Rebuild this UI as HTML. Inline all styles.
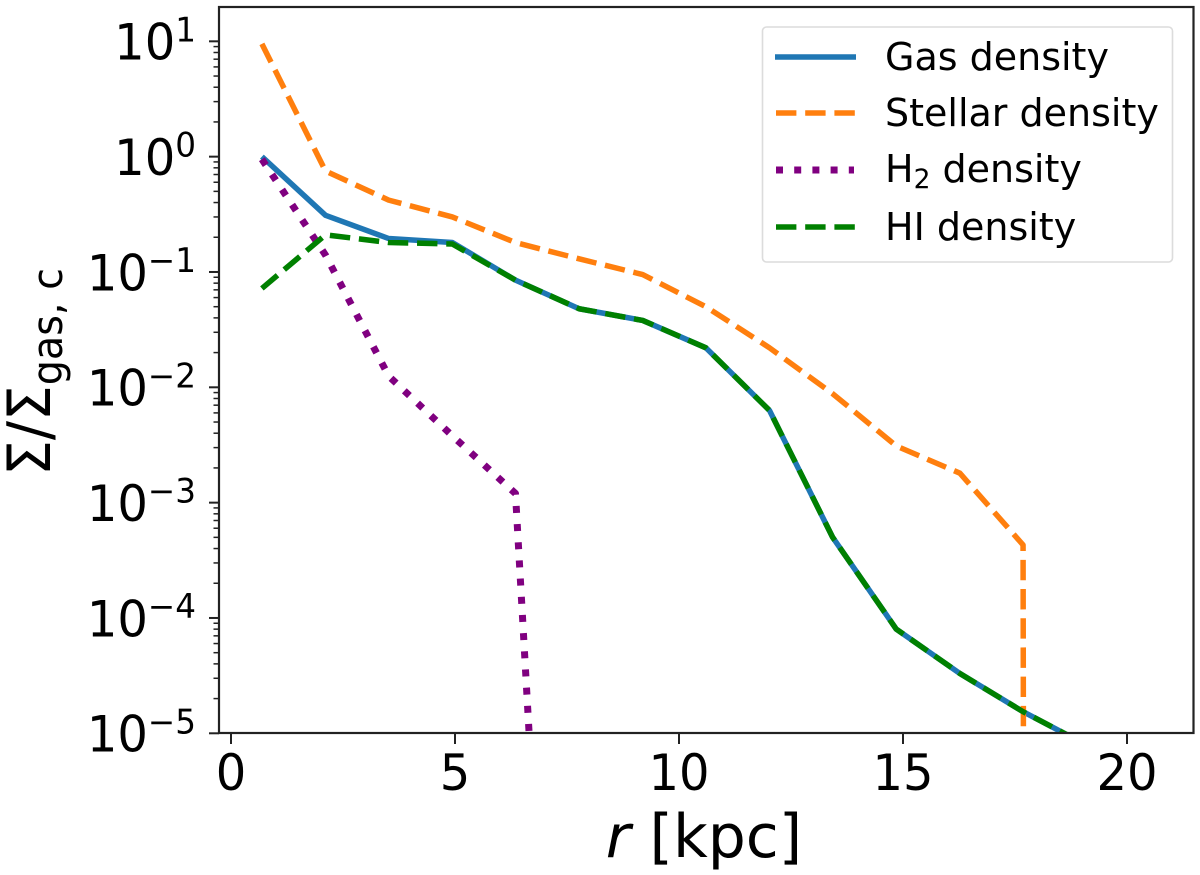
<!DOCTYPE html>
<html lang="en">
<head>
<meta charset="utf-8">
<title>Surface density profiles</title>
<style>
html,body{margin:0;padding:0;background:#fff;overflow:hidden;}
svg{display:block;}
text{font-family:"DejaVu Sans","Liberation Sans",sans-serif;fill:#000;}
</style>
</head>
<body>
<svg id="chart" xmlns="http://www.w3.org/2000/svg" width="1200" height="875" viewBox="0 0 1200 875">
  <defs><clipPath id="plot-clip"><rect x="219" y="7" width="974.5" height="726"/></clipPath></defs>
  <rect x="0" y="0" width="1200" height="875" fill="#fff"/>
  <g id="series" clip-path="url(#plot-clip)" fill="none" stroke-linejoin="round"></g>
  <g id="ticks"></g>
  <rect x="219" y="7" width="974.5" height="726" fill="none" stroke="#222" stroke-width="2.2"/>
  <text x="704" y="857" font-size="60" text-anchor="middle"><tspan font-style="italic">r</tspan> [kpc]</text>
  <text transform="translate(50,476) rotate(-90) scale(0.945,1)" font-size="60">Σ/Σ<tspan font-size="42" dy="12">gas, c</tspan></text>
  <g>
    <rect x="762.5" y="27" width="410" height="235" rx="4" fill="#fff" fill-opacity="0.8" stroke="#dcdcdc" stroke-width="1.6"/>
    <g>
      <line x1="775" x2="856" y1="57" y2="57" stroke="#1f77b4" stroke-width="5.5"/>
      <text x="885" y="70" font-size="38">Gas density</text>
    </g>
    <g>
      <line x1="776" x2="856" y1="113" y2="113" stroke="#ff7f0e" stroke-width="5.5" stroke-dasharray="20.4 8.8"/>
      <text x="885" y="126" font-size="38">Stellar density</text>
    </g>
    <g>
      <line x1="776" x2="854" y1="170" y2="170" stroke="#800080" stroke-width="7" stroke-dasharray="7 11.2"/>
      <text x="885" y="182" font-size="38">H<tspan font-size="26.5" dy="6">2</tspan><tspan dy="-6"> density</tspan></text>
    </g>
    <g>
      <line x1="776" x2="856" y1="227" y2="227" stroke="#008000" stroke-width="5.5" stroke-dasharray="20.4 8.8"/>
      <text x="885" y="240" font-size="38">HI density</text>
    </g>
  </g>
</svg>
<script>
const radius = [0.69, 2.11, 3.52, 4.94, 6.35, 7.77, 9.19, 10.6, 12.02, 13.43, 14.85, 16.27, 17.68, 19.1];
const gasDensity = [1.0, 0.31, 0.195, 0.18, 0.085, 0.048, 0.038, 0.022, 0.0063, 0.0005, 0.00008, 0.000033, 0.0000154, 0.0000079];
const stellarDensity = [9.5, 0.75, 0.42, 0.30, 0.18, 0.13, 0.095, 0.05, 0.022, 0.0088, 0.0031, 0.0018, 0.00043, 1e-300];
const h2Density = [0.95, 0.14, 0.0125, 0.0038, 0.0012, 2.4e-13, 1e-300, 1e-300, 1e-300, 1e-300, 1e-300, 1e-300, 1e-300, 1e-300];
const hiDensity = [0.072, 0.21, 0.18, 0.175, 0.085, 0.048, 0.038, 0.022, 0.0063, 0.0005, 0.00008, 0.000033, 0.0000154, 0.0000079];
const xTickValues = [0, 5, 10, 15, 20];
const xTickLabels = ['0', '5', '10', '15', '20'];
const yTickExponents = [1, 0, -1, -2, -3, -4, -5];
const yTickSuperscripts = ['1', '0', '\u22121', '\u22122', '\u22123', '\u22124', '\u22125'];
const minorMultipliers = [2, 3, 4, 5, 6, 7, 8, 9];

const NS = 'http://www.w3.org/2000/svg';
const SQUEEZE = 0.96;
const STOP_Y = 770;
const xScale = function (v) { return 231 + v * 44.8; };
const yScale = function (v) { return 733.3 - (Math.log10(v) + 5) * 115.33; };
const seriesGroup = document.getElementById('series');
const tickGroup = document.getElementById('ticks');

function drawSeries(values, color, width, dash, name) {
  const path = document.createElementNS(NS, 'path');
  let d = '';
  for (let i = 0; i < values.length; i++) {
    const x = xScale(radius[i]);
    const y = yScale(values[i]);
    if (y > STOP_Y && i > 0) {
      /* leave the plot along the true segment direction, then stop */
      const px = xScale(radius[i - 1]);
      const py = yScale(values[i - 1]);
      const f = (STOP_Y - py) / (y - py);
      d += ' L' + (px + (x - px) * f).toFixed(2) + ' ' + STOP_Y;
      break;
    }
    d += (i ? ' L' : 'M') + x.toFixed(2) + ' ' + y.toFixed(2);
  }
  path.setAttribute('d', d);
  path.setAttribute('stroke', color);
  path.setAttribute('stroke-width', width);
  if (dash) path.setAttribute('stroke-dasharray', dash);
  
  
  seriesGroup.appendChild(path);
}
drawSeries(gasDensity, '#1f77b4', 5.5, null, 'gas-density-line');
drawSeries(stellarDensity, '#ff7f0e', 5.5, '20.4 8.8', 'stellar-density-line');
drawSeries(h2Density, '#800080', 7, '7 11.2', 'h2-density-line');
drawSeries(hiDensity, '#008000', 5.5, '20.4 8.8', 'hi-density-line');

function tickLine(x1, y1, x2, y2, w) {
  const l = document.createElementNS(NS, 'line');
  l.setAttribute('x1', x1);
  l.setAttribute('y1', y1);
  l.setAttribute('x2', x2);
  l.setAttribute('y2', y2);
  l.setAttribute('stroke', '#222');
  l.setAttribute('stroke-width', w);
  
  
  tickGroup.appendChild(l);
}

xTickValues.forEach(function (v, i) {
  const x = xScale(v);
  tickLine(x, 733, x, 744, 2);
  const t = document.createElementNS(NS, 'text');
  t.setAttribute('transform', 'translate(' + x + ',790) scale(' + SQUEEZE + ',1)');
  t.setAttribute('font-size', '50');
  t.setAttribute('text-anchor', 'middle');
  
  
  t.textContent = xTickLabels[i];
  tickGroup.appendChild(t);
});

yTickExponents.forEach(function (exp, i) {
  const y = yScale(Math.pow(10, exp));
  tickLine(209, y, 219, y, 2);
  if (exp > -5) {
    minorMultipliers.forEach(function (m) {
      const my = yScale(m * Math.pow(10, exp - 1));
      tickLine(213.5, my, 219, my, 1.5);
    });
  }
  const sup = document.createElementNS(NS, 'text');
  sup.setAttribute('transform', 'translate(196,' + y + ') scale(' + SQUEEZE + ',1)');
  sup.setAttribute('font-size', '34');
  sup.setAttribute('text-anchor', 'end');
  
  
  sup.textContent = yTickSuperscripts[i];
  tickGroup.appendChild(sup);
  const supW = sup.getComputedTextLength() * SQUEEZE;
  const base = document.createElementNS(NS, 'text');
  base.setAttribute('transform', 'translate(' + (196 - supW) + ',' + (y + 18.3) + ') scale(' + SQUEEZE + ',1)');
  base.setAttribute('font-size', '50');
  base.setAttribute('text-anchor', 'end');
  
  
  base.textContent = '10';
  tickGroup.appendChild(base);
});
</script>
</body>
</html>
